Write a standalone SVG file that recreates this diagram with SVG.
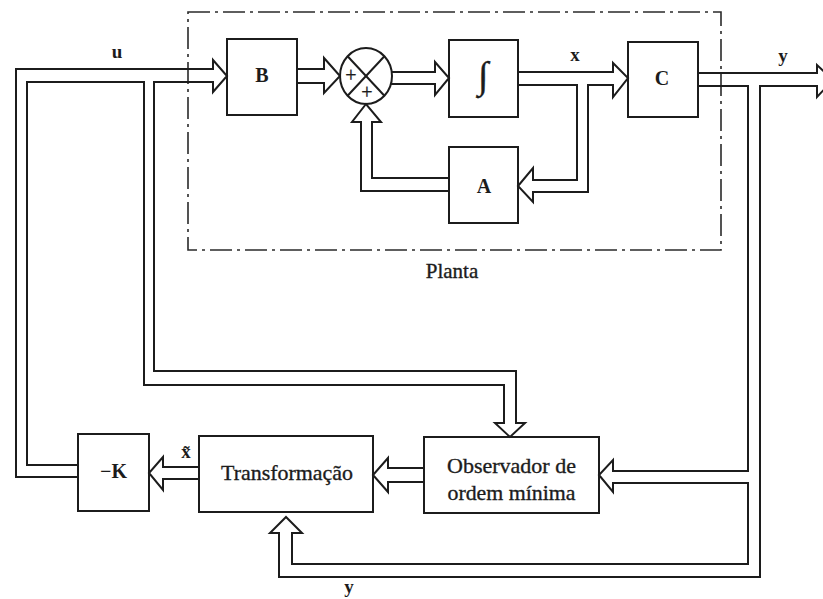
<svg xmlns="http://www.w3.org/2000/svg" width="823" height="599" viewBox="0 0 823 599">
<style>
.box{fill:none;stroke:#1c1c1c;stroke-width:2}
.wire{fill:none;stroke:#1c1c1c;stroke-width:2;stroke-linejoin:miter}
.frame{fill:none;stroke:#2a2a2a;stroke-width:1.6;stroke-dasharray:22 5 3 5}
.lbl{font-family:"Liberation Serif","Times New Roman",serif;font-weight:bold;fill:#1c1c1c;text-anchor:middle}
.txt{font-family:"Liberation Serif","Times New Roman",serif;fill:#1c1c1c;stroke:#1c1c1c;stroke-width:0.35;text-anchor:middle}
</style>
<rect width="823" height="599" fill="#ffffff"/>
<g id="planta">
<rect class="frame" x="188" y="12" width="533" height="238"/>
<text class="txt" x="452" y="278" font-size="21">Planta</text>
</g>
<g id="B"><rect class="box" x="227" y="39" width="70" height="76"/><text class="lbl" x="262" y="82" font-size="20">B</text></g>
<g id="sum">
<ellipse class="box" cx="366" cy="76" rx="26" ry="28"/>
<line class="box" x1="347.6" y1="56.2" x2="384.4" y2="95.8"/>
<line class="box" x1="384.4" y1="56.2" x2="347.6" y2="95.8"/>
<text class="txt" x="351" y="82" font-size="20" stroke-width="0">+</text>
<text class="txt" x="367" y="99" font-size="20" stroke-width="0">+</text>
</g>
<g id="integrador"><rect class="box" x="449" y="40" width="69" height="77"/><text class="txt" x="483" y="88" font-size="38">∫</text></g>
<g id="A"><rect class="box" x="449" y="147" width="69" height="76"/><text class="lbl" x="484" y="193" font-size="20">A</text></g>
<g id="C"><rect class="box" x="628" y="42" width="70" height="75"/><text class="lbl" x="662" y="85" font-size="20">C</text></g>
<g id="observador"><rect class="box" x="424" y="437" width="175" height="76"/>
<text class="txt" x="511.5" y="473" font-size="22" textLength="129" lengthAdjust="spacingAndGlyphs">Observador de</text>
<text class="txt" x="511.5" y="500" font-size="22" textLength="128" lengthAdjust="spacingAndGlyphs">ordem mínima</text></g>
<g id="transformacao"><rect class="box" x="199" y="436" width="174" height="76"/>
<text class="txt" x="287" y="480" font-size="22" textLength="132" lengthAdjust="spacingAndGlyphs">Transformação</text></g>
<g id="K"><rect class="box" x="78" y="434" width="71" height="77"/><text class="lbl" x="113.5" y="478" font-size="20">−K</text></g>
<g id="connectors">
<path class="wire" d="M297,69 L324,69 L324,58 L340,76 L324,93 L324,83 L297,83"/>
<path class="wire" d="M391,72 L435,72 L435,62 L449,78 L435,95 L435,84 L391,84"/>
<path class="wire" d="M449,178 L372,178 L372,122 L381,122 L366,104 L352,122 L361,122 L361,191 L449,191"/>
<path class="wire" d="M518,72 L613,72 L613,63 L628,78 L613,97 L613,85 L588,85 L588,192 L533,192 L533,202 L518,186 L533,168 L533,180 L577,180 L577,85 L518,85"/>
<path class="wire" d="M698,73 L817,73 L817,65 L833,80 L817,97 L817,86 L760,86 L760,577 L279,577 L279,533 L270,533 L286,517 L302,533 L292,533 L292,564 L748,564 L748,483 L613,483 L613,492 L599,475 L613,460 L613,471 L748,471 L748,86 L698,86"/>
<path class="wire" d="M78,477 L16,477 L16,69 L213,69 L213,60 L227,76 L213,92 L213,82 L154,82 L154,371 L516,371 L516,423 L525,423 L510,437 L495,423 L504,423 L504,385 L144,385 L144,82 L27,82 L27,465 L78,465"/>
<path class="wire" d="M424,468 L388,468 L388,458 L373,475 L388,492 L388,482 L424,482"/>
<path class="wire" d="M199,467 L163,467 L163,457 L149,473 L163,490 L163,479 L199,479"/>
</g>
<g id="labels">
<text class="lbl" x="117" y="58" font-size="19">u</text>
<text class="lbl" x="575" y="61" font-size="19">x</text>
<text class="lbl" x="783" y="62" font-size="19">y</text>
<text class="lbl" x="349" y="593" font-size="19">y</text>
<text class="lbl" x="186" y="458" font-size="19">x̃</text>
</g>
</svg>
